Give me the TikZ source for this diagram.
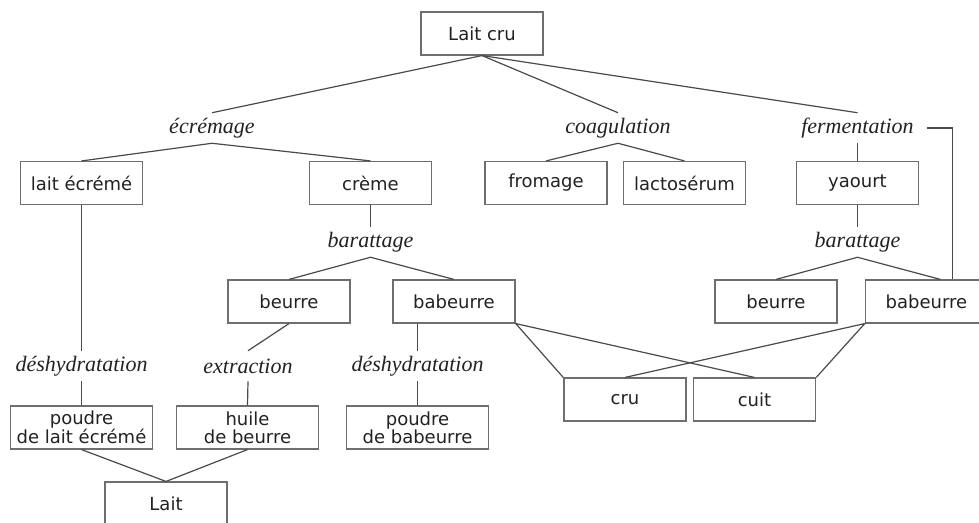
\documentclass[tikz,border=0pt]{standalone}
\usepackage{fontspec}
\setmainfont{Liberation Serif}
\newfontfamily\boxfont{DejaVu Sans}
\usetikzlibrary{calc}
\definecolor{edgegray}{HTML}{4A4A4A}
\definecolor{framegray}{HTML}{6E6E6E}
\definecolor{textgray}{HTML}{222222}
\begin{document}
\begin{tikzpicture}[x=0.75pt,y=-0.75pt,
  item/.style={draw=framegray, line width=1.1pt, fill=white,
    font=\boxfont\fontsize{13.5}{13.5}\selectfont, text=textgray,
    minimum width=91.5pt, minimum height=32pt, inner sep=0pt, align=center},
  wide/.style={minimum width=106.5pt},
  proc/.style={font=\itshape\fontsize{16.5}{18}\selectfont, text=textgray,
    inner xsep=1pt, inner ysep=0pt, minimum height=22.5pt},
  link/.style={draw=edgegray, line width=0.9pt}]
\useasboundingbox (0,0) rectangle (979,522);
\clip (0,0) rectangle (979,522);

% products and processes
\node[item] (laitcru) at (482,33.5) {Lait cru};
\node[proc] (ecremage) at (212,128) {écrémage};
\node[proc] (coag) at (618,128) {coagulation};
\node[proc] (ferm) at (857.5,128) {fermentation};
\node[item] (laitecreme) at (81.5,183) {lait écrémé};
\node[item] (creme) at (370.5,183) {crème};
\node[item] (fromage) at (546,183) {fromage};
\node[item] (lactoserum) at (684.5,183) {lactosérum};
\node[item] (yaourt) at (857.5,183) {yaourt};
\node[proc] (barat1) at (370.5,242) {barattage};
\node[proc] (barat2) at (857.5,242) {barattage};
\node[item] (beurre1) at (289,301.5) {beurre};
\node[item] (babeurre1) at (454,301.5) {babeurre};
\node[item] (beurre2) at (776,301.5) {beurre};
\node[item] (babeurre2) at (926.5,301.5) {babeurre};
\node[proc] (deshyd1) at (81.5,366) {déshydratation};
\node[proc] (extraction) at (248,366) {extraction};
\node[proc] (deshyd2) at (417.5,366) {déshydratation};
\node[item,wide] (poudre1) at (81.5,427.5) {poudre\\de lait écrémé};
\node[item,wide] (huile) at (247.5,427.5) {huile\\de beurre};
\node[item,wide] (poudre2) at (417.5,427.5) {poudre\\de babeurre};
\node[item] (cru) at (625,399.5) {cru};
\node[item] (cuit) at (754.5,399.5) {cuit};
\node[item] (lait) at (166,503.5) {Lait};

% connectors
\draw[link] (laitcru.south) -- (ecremage.north);
\draw[link] (laitcru.south) -- (coag.north);
\draw[link] (laitcru.south) -- (ferm.north);
\draw[link] (laitecreme.north) -- (ecremage.south) -- (creme.north);
\draw[link] (fromage.north) -- (coag.south) -- (lactoserum.north);
\draw[link] (ferm.south) -- (yaourt.north);
\draw[link] ($(ferm.east)+(12,0)$) -| ($(babeurre2.north)+(26,0)$);
\draw[link] (creme.south) -- (barat1.north);
\draw[link] (yaourt.south) -- (barat2.north);
\draw[link] (beurre1.north) -- (barat1.south) -- (babeurre1.north);
\draw[link] (beurre2.north) -- (barat2.south) -- ($(babeurre2.north)+(14,0)$);
\draw[link] (laitecreme.south) -- (deshyd1.north);
\draw[link] (deshyd1.south) -- (poudre1.north);
\draw[link] (beurre1.south) -- (extraction.north);
\draw[link] (extraction.south) -- (huile.north);
\draw[link] (deshyd2.north) -- (deshyd2.north |- babeurre1.south);
\draw[link] (deshyd2.south) -- (poudre2.north);
\draw[link] (poudre1.south) -- (lait.north) -- (huile.south);
\draw[link] (cru.north west) -- (babeurre1.south east) -- (cuit.north);
\draw[link] (cru.north) -- (babeurre2.south west) -- (cuit.north east);
\end{tikzpicture}
\end{document}
